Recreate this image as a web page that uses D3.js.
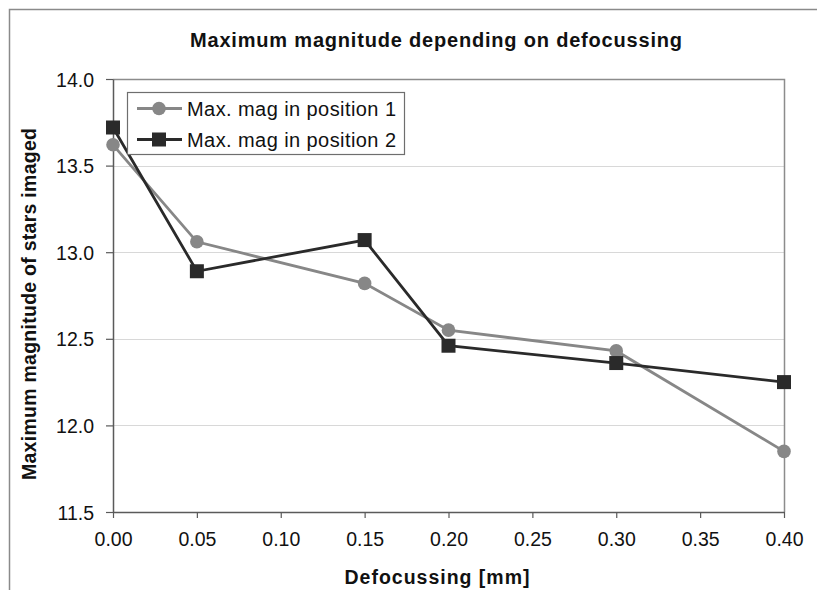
<!DOCTYPE html>
<html>
<head>
<meta charset="utf-8">
<script src="https://cdn.jsdelivr.net/npm/d3@7"></script>
<style>
  html, body { margin: 0; padding: 0; background: #fff; }
  svg { display: block; font-family: "Liberation Sans", Arial, sans-serif; }
</style>
</head>
<body>
<svg id="chart" width="817" height="590"></svg>
<script>
// Defocussing values [mm] and the faintest magnitude reached at each
const defocus = [0.00, 0.05, 0.15, 0.20, 0.30, 0.40];
const magPos1 = [13.62, 13.06, 12.82, 12.55, 12.43, 11.85];
const magPos2 = [13.72, 12.89, 13.07, 12.46, 12.36, 12.25];
const seriesNames = ["Max. mag in position 1", "Max. mag in position 2"];
const xTicks = [0, 0.05, 0.10, 0.15, 0.20, 0.25, 0.30, 0.35, 0.40];
const yTicks = [11.5, 12.0, 12.5, 13.0, 13.5, 14.0];

const svg = d3.select("#chart");
const plot = { left: 113, right: 784, top: 79, bottom: 512 };

const x = d3.scaleLinear().domain([0, 0.4]).range([plot.left, plot.right]);
const y = d3.scaleLinear().domain([11.5, 14.0]).range([plot.bottom, plot.top]);

// outer frame (top and left edges)
svg.append("path")
  .attr("d", "M9.5,590 L9.5,9.5 L817,9.5")
  .attr("fill", "none").attr("stroke", "#8a8a8a").attr("stroke-width", 1.5);

// horizontal gridlines
svg.append("g").selectAll("line")
  .data(yTicks.slice(1, -1))
  .join("line")
  .attr("x1", plot.left).attr("x2", plot.right)
  .attr("y1", d => Math.round(y(d)) + 0.5).attr("y2", d => Math.round(y(d)) + 0.5)
  .attr("stroke", "#d8d8d8").attr("stroke-width", 1);

// plot area frame: top and right sides
svg.append("path")
  .attr("d", `M${plot.left},${plot.top + 0.5} L${plot.right + 0.5},${plot.top + 0.5} L${plot.right + 0.5},${plot.bottom}`)
  .attr("fill", "none").attr("stroke", "#8c8c8c").attr("stroke-width", 1.5);

// axes
const xAxis = d3.axisBottom(x).tickValues(xTicks).tickFormat(d3.format(".2f"))
  .tickSizeInner(6).tickSizeOuter(0).tickPadding(14);
const yAxis = d3.axisLeft(y).tickValues(yTicks).tickFormat(d3.format(".1f"))
  .tickSizeInner(7).tickSizeOuter(0).tickPadding(12);

const gx = svg.append("g").attr("transform", `translate(0,${plot.bottom})`).call(xAxis);
const gy = svg.append("g").attr("transform", `translate(${plot.left},0)`).call(yAxis);

[gx, gy].forEach(g => {
  g.select(".domain").attr("stroke", "#5a5a5a").attr("stroke-width", 1.5);
  g.selectAll(".tick line").attr("stroke", "#5a5a5a").attr("stroke-width", 1.2);
  g.selectAll(".tick text")
    .attr("font-family", "Liberation Sans, Arial, sans-serif")
    .attr("font-size", 19.5).attr("fill", "#111");
});
gy.selectAll(".tick text").attr("dy", "0.36em");

// series lines and markers
const line = d3.line().x(d => x(d[0])).y(d => y(d[1]));
const pts1 = defocus.map((d, i) => [d, magPos1[i]]);
const pts2 = defocus.map((d, i) => [d, magPos2[i]]);
const col1 = "#878787", col2 = "#2a2a2a";

svg.append("path").datum(pts1).attr("d", line)
  .attr("fill", "none").attr("stroke", col1).attr("stroke-width", 2.8);
svg.append("g").selectAll("circle").data(pts1).join("circle")
  .attr("cx", d => x(d[0])).attr("cy", d => y(d[1])).attr("r", 6.8)
  .attr("fill", col1);

svg.append("path").datum(pts2).attr("d", line)
  .attr("fill", "none").attr("stroke", col2).attr("stroke-width", 2.8);
const sq = 14;
svg.append("g").selectAll("rect").data(pts2).join("rect")
  .attr("x", d => x(d[0]) - sq / 2).attr("y", d => y(d[1]) - sq / 2)
  .attr("width", sq).attr("height", sq)
  .attr("fill", col2);

// legend
const legend = svg.append("g");
legend.append("rect")
  .attr("x", 127.5).attr("y", 92.5).attr("width", 277).attr("height", 62)
  .attr("fill", "#fff").attr("stroke", "#6e6e6e").attr("stroke-width", 1.2);
const legRows = [
  { name: seriesNames[0], color: col1, shape: "circle", cy: 108.5 },
  { name: seriesNames[1], color: col2, shape: "square", cy: 139.5 }
];
legRows.forEach(r => {
  legend.append("line").attr("x1", 137).attr("x2", 182)
    .attr("y1", r.cy).attr("y2", r.cy)
    .attr("stroke", r.color).attr("stroke-width", 2.8);
  if (r.shape === "circle") {
    legend.append("circle").attr("cx", 159).attr("cy", r.cy).attr("r", 6.8).attr("fill", r.color);
  } else {
    legend.append("rect").attr("x", 159 - sq / 2).attr("y", r.cy - sq / 2)
      .attr("width", sq).attr("height", sq).attr("fill", r.color);
  }
  legend.append("text").attr("x", 187).attr("y", r.cy).attr("dy", "0.36em")
    .attr("font-size", 20).attr("fill", "#111")
    .attr("textLength", 209).attr("lengthAdjust", "spacing")
    .text(r.name);
});

// titles
svg.append("text")
  .attr("x", 436).attr("y", 47).attr("text-anchor", "middle")
  .attr("font-size", 20).attr("font-weight", "bold").attr("fill", "#111")
  .attr("textLength", 492).attr("lengthAdjust", "spacing")
  .text("Maximum magnitude depending on defocussing");

svg.append("text")
  .attr("x", 437).attr("y", 584).attr("text-anchor", "middle")
  .attr("font-size", 19.5).attr("font-weight", "bold").attr("fill", "#111")
  .attr("textLength", 185).attr("lengthAdjust", "spacing")
  .text("Defocussing [mm]");

svg.append("text")
  .attr("transform", "translate(36,304) rotate(-90)")
  .attr("text-anchor", "middle")
  .attr("font-size", 19.5).attr("font-weight", "bold").attr("fill", "#111")
  .attr("textLength", 352).attr("lengthAdjust", "spacing")
  .text("Maximum magnitude of stars imaged");
</script>
</body>
</html>
